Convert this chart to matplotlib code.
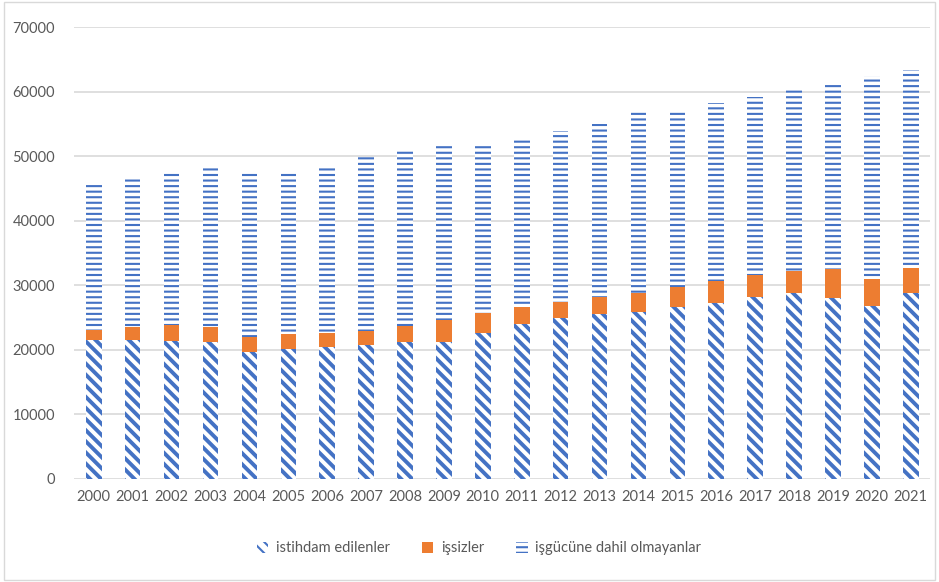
import numpy as np
import matplotlib
matplotlib.use("Agg")
from matplotlib import pyplot as plt
from matplotlib.patches import Rectangle

years = [str(y) for y in range(2000, 2022)]
employed = [21500, 21500, 21300, 21200, 19700, 20100, 20400, 20700, 21250, 21250, 22550,
            24000, 24900, 25550, 25850, 26600, 27250, 28200, 28750, 28100, 26800, 28750]
unemp_top = [23000, 23500, 23850, 23500, 22000, 22400, 22650, 22950, 23700, 24700, 25650,
             26700, 27350, 28200, 28750, 29750, 30650, 31600, 32250, 32550, 30900, 32750]
total = [45650, 46600, 47650, 48600, 47450, 47650, 48600, 49850, 50750, 51700, 51900,
         52800, 53850, 54950, 56950, 57000, 58250, 59200, 60200, 61200, 62400, 63300]

unemployed = np.array(unemp_top) - np.array(employed)
not_in_lf = np.array(total) - np.array(unemp_top)

blue = "#4472C4"
orange = "#ED7D31"
grey = "#595959"

plt.rcParams['font.family'] = ['Lato', 'DejaVu Sans']
plt.rcParams['hatch.linewidth'] = 2.8

fig = plt.figure(figsize=(9.39, 5.82), dpi=100)
ax = fig.add_axes([0.0792, 0.177, 0.9114, 0.7766])

x = np.arange(len(years))
w = 0.40
b1 = ax.bar(x, employed, w, color="white", edgecolor=blue, hatch="\\\\\\", linewidth=0,
            label="istihdam edilenler")
b2 = ax.bar(x, unemployed, w, bottom=employed, color=orange, linewidth=0, label="işsizler")
plt.rcParams['hatch.linewidth'] = 1.5
b3 = ax.bar(x, not_in_lf, w, bottom=unemp_top, color="white", edgecolor=blue, hatch="---",
            linewidth=0, label="işgücüne dahil olmayanlar")

ax.set_xlim(-0.5, len(years) - 0.5)
ax.set_ylim(0, 70000)
ax.set_yticks(range(0, 70001, 10000))
ax.set_xticks(x)
ax.set_xticklabels(years)
ax.yaxis.grid(True, color="#D9D9D9", linewidth=1.2)
ax.set_axisbelow(True)
for s in ax.spines.values():
    s.set_visible(False)
ax.tick_params(length=0, labelsize=10.5, colors=grey, pad=8)
ax.tick_params(axis="y", pad=14)

leg = fig.legend(handles=[b1, b2, b3], loc="center", bbox_to_anchor=(0.51, 0.058),
                 ncol=3, frameon=False, fontsize=10.5, handlelength=0.8,
                 handleheight=0.8, handletextpad=0.5, columnspacing=2.2)
for t in leg.get_texts():
    t.set_color(grey)

fig.patches.append(Rectangle((0.004, 0.004), 0.992, 0.992, transform=fig.transFigure,
                             fill=False, edgecolor="#D9D9D9", linewidth=1))

fig.savefig("out.png", dpi=100)
